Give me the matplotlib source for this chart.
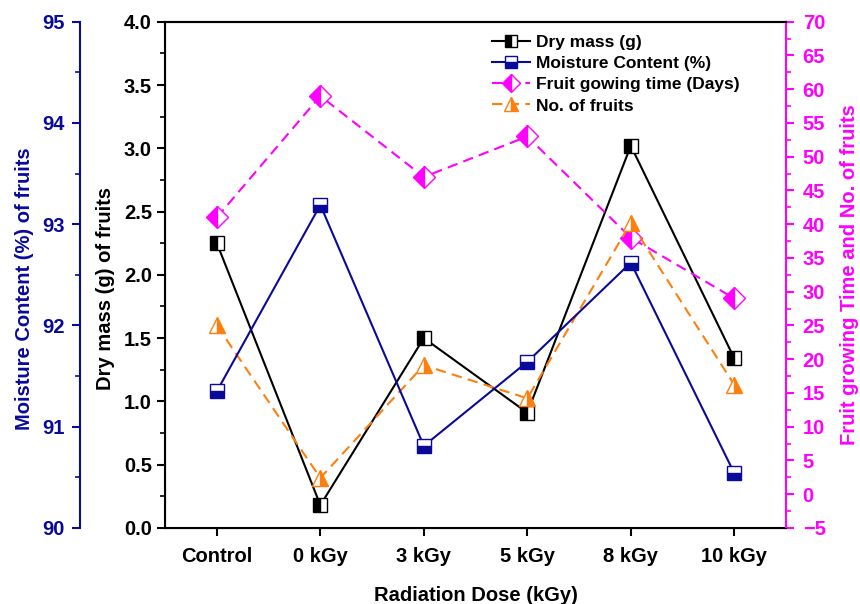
import numpy as np
import matplotlib
matplotlib.use("Agg")
import matplotlib.pyplot as plt
from matplotlib.ticker import MultipleLocator

plt.rcParams['font.family'] = ['Liberation Sans', 'DejaVu Sans']
plt.rcParams['font.weight'] = 'bold'

# donnees
doses = ["Control", "0 kGy", "3 kGy", "5 kGy", "8 kGy", "10 kGy"]
dry_mass = [2.25, 0.18, 1.50, 0.91, 3.02, 1.34]
moisture = [91.35, 93.19, 90.81, 91.64, 92.62, 90.54]
grow_time = [41, 59, 47, 53, 38, 29]
n_fruits = [25, 2.4, 19.1, 14.2, 40.2, 16.2]

blue = "#0a0a9a"
pink = "#ff00ff"
orange = "#ff7f0e"
x = np.arange(len(doses))

fig = plt.figure(figsize=(8.6, 6.04), dpi=100)
ax = fig.add_axes([0.192, 0.126, 0.722, 0.838])
ax2 = ax.twinx()
ax3 = ax.twinx()

# moisture axis on the far left
ax3.spines['left'].set_visible(True)
ax3.spines['left'].set_position(('outward', 61))
ax3.spines['left'].set_color(blue)
ax3.spines['right'].set_visible(False)
ax3.spines['top'].set_visible(False)
ax3.spines['bottom'].set_visible(False)
ax3.yaxis.set_label_position('left')
ax3.yaxis.set_ticks_position('left')

ms = 10
l1, = ax.plot(x, dry_mass, color='black', lw=1.5, marker='s', ms=ms,
              fillstyle='left', markerfacecoloralt='white', mec='black', mfc='black',
              label="Dry mass (g)")
l2, = ax3.plot(x, moisture, color=blue, lw=1.5, marker='s', ms=ms,
               fillstyle='bottom', markerfacecoloralt='white', mec=blue, mfc=blue,
               label="Moisture Content (%)")
l3, = ax2.plot(x, grow_time, color=pink, lw=1.5, ls=(0, (5, 3)), marker='D', ms=11,
               fillstyle='left', markerfacecoloralt='white', mec=pink, mfc=pink,
               label="Fruit gowing time (Days)")
l4, = ax2.plot(x, n_fruits, color=orange, lw=1.5, ls=(0, (5, 3)), marker='^', ms=12,
               fillstyle='right', markerfacecoloralt='white', mec=orange, mfc=orange,
               label="No. of fruits")

ax.set_xlim(-0.5, 5.5)
ax.set_ylim(0, 4)
ax3.set_ylim(90, 95)
ax2.set_ylim(-5, 70)

ax.set_xticks(x)
ax.set_xticklabels(doses)
ax.yaxis.set_major_locator(MultipleLocator(0.5))
ax.yaxis.set_minor_locator(MultipleLocator(0.25))
ax3.yaxis.set_major_locator(MultipleLocator(1))
ax3.yaxis.set_minor_locator(MultipleLocator(0.5))
ax2.yaxis.set_major_locator(MultipleLocator(5))
ax2.yaxis.set_minor_locator(MultipleLocator(2.5))
ax.yaxis.set_major_formatter(plt.FormatStrFormatter('%.1f'))

fs = 14.5
ax.tick_params(axis='both', which='major', direction='out', length=6, width=1.5, labelsize=fs)
ax.tick_params(axis='y', which='minor', direction='out', length=3.5, width=1.2)
ax.tick_params(axis='x', pad=8)
ax3.tick_params(axis='y', which='major', direction='out', length=6, width=1.5,
                labelsize=fs, colors=blue, pad=5)
ax3.tick_params(axis='y', which='minor', direction='out', length=3.5, width=1.2, colors=blue)
ax2.tick_params(axis='y', which='major', direction='out', length=6, width=1.5,
                labelsize=fs, colors=pink, pad=6)
ax2.tick_params(axis='y', which='minor', direction='out', length=3.5, width=1.2, colors=pink)

for s in ['left', 'top', 'bottom']:
    ax.spines[s].set_linewidth(1.5)
ax.spines['right'].set_visible(False)
ax2.spines['right'].set_color(pink)
ax2.spines['right'].set_linewidth(1.5)
ax2.spines['top'].set_linewidth(1.5)
ax3.spines['left'].set_linewidth(1.5)

ax.set_xlabel("Radiation Dose (kGy)", fontsize=fs, fontweight='bold', labelpad=14)
ax.set_ylabel("Dry mass (g) of fruits", fontsize=fs, fontweight='bold', labelpad=6)
ax3.set_ylabel("Moisture Content (%) of fruits", fontsize=fs, fontweight='bold', color=blue, labelpad=6)
ax2.set_ylabel("Fruit growing Time and No. of fruits", fontsize=fs, fontweight='bold', color=pink, labelpad=10)
ax.yaxis.label.set_y(0.472)
ax3.yaxis.label.set_y(0.472)

leg = ax.legend(handles=[l1, l2, l3, l4], loc='upper left', bbox_to_anchor=(0.51, 0.995),
                frameon=False, fontsize=12.5, handlelength=2.2, handletextpad=0.3,
                labelspacing=0.35, borderaxespad=0.2, markerscale=0.85)
for t in leg.get_texts():
    t.set_fontweight('bold')

fig.savefig("out.png", dpi=100)
